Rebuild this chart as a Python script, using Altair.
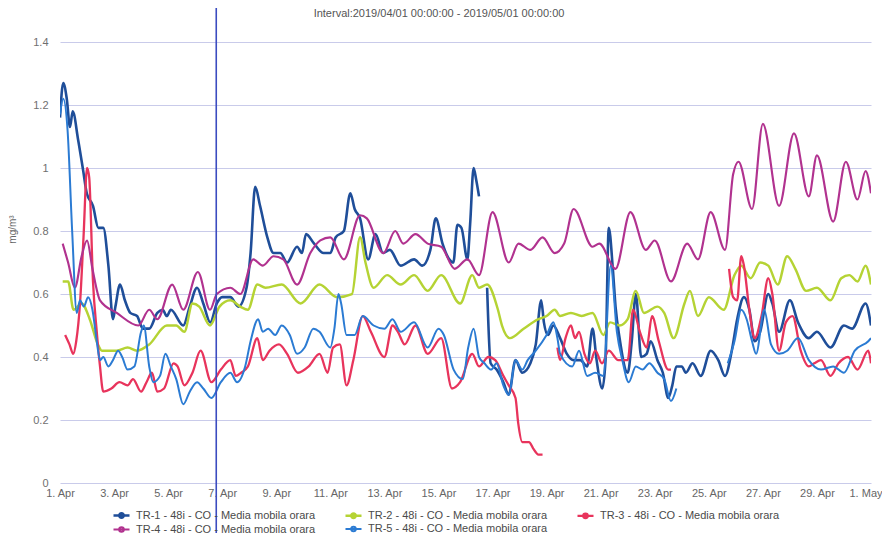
import altair as alt
import pandas as pd

title_text = "Interval:2019/04/01 00:00:00 - 2019/05/01 00:00:00"
series_names = [
    "TR-1 - 48i - CO - Media mobila orara",
    "TR-2 - 48i - CO - Media mobila orara",
    "TR-3 - 48i - CO - Media mobila orara",
    "TR-4 - 48i - CO - Media mobila orara",
    "TR-5 - 48i - CO - Media mobila orara",
]
series_colors = ["#1f4e99", "#b5d334", "#e8345c", "#b1328f", "#2b7bd3"]
series_widths = [2.6, 2.0, 2.0, 2.0, 2.0]
tick_days = list(range(0, 31, 2))
tick_labels = ["1. Apr", "3. Apr", "5. Apr", "7. Apr", "9. Apr", "11. Apr", "13. Apr",
               "15. Apr", "17. Apr", "19. Apr", "21. Apr", "23. Apr", "25. Apr",
               "27. Apr", "29. Apr", "1. May"]
y_ticks = [0, 0.2, 0.4, 0.6, 0.8, 1.0, 1.2, 1.4]
marker_day = [5.78]

# day offset from 2019/04/01 00:00, None = gap
tr1_days = [0.0, 0.12, 0.25, 0.37, 0.47, 0.67, 0.86, 0.99, 1.22, 1.42, 1.6, 1.79, 1.96, 2.05, 2.22, 2.4, 2.6, 2.85, 3.07, 3.3, 3.6, 3.8, 3.95, 4.1, 4.56, 4.8, 5.07, 5.3, 5.56, 5.8, 6.0, 6.3,
            6.6, 6.9, 7.05, 7.22, 7.4, 7.67, 7.9, 8.15, 8.4, 8.77, 8.95, 9.1, 9.4, 9.75, 10.0, 10.2, 10.5, 10.74, 10.9, 11.1, 11.4, 11.67, 11.95, 12.2, 12.6,
            13.1, 13.4, 13.7, 13.9, 14.15, 14.4, 14.55, 14.7, 14.85, 15.07, 15.17, 15.3, 15.4, 15.5, None,
            15.8, 15.93, 16.15, 16.4, 16.6, 16.85, 17.1, 17.4, 17.6, 17.8, 17.9, 18.05, 18.25, 18.5,
            18.75, 19.0, 19.25, 19.5, 19.7, 19.85, 20.06, 20.18, 20.3, 20.45, 20.55, 20.7, 21.0, 21.15, 21.3, 21.5, 21.7, 21.85, 22.1, 22.3, 22.5, 22.65, 22.8, 23.0, 23.15, 23.4, 23.7, 24.07, 24.35, 24.6,
            24.85, 25.05, 25.3, 25.5, 25.7, 25.9, 26.2, 26.35, 26.6, 27.0, 27.3, 27.7, 28.0, 28.5, 29.0, 29.3, 29.8, 30.0]
tr1_vals = [1.16, 1.27, 1.22, 1.13, 1.18, 1.09, 0.99, 0.92, 0.88, 0.81, 0.81, 0.69, 0.52, 0.56, 0.63, 0.58, 0.54, 0.53, 0.49, 0.49, 0.54, 0.55, 0.53, 0.55, 0.50, 0.56, 0.62, 0.57, 0.51, 0.57, 0.59, 0.59,
            0.56, 0.62, 0.73, 0.94, 0.88, 0.78, 0.73, 0.73, 0.70, 0.75, 0.73, 0.79, 0.76, 0.73, 0.73, 0.78, 0.80, 0.92, 0.87, 0.84, 0.71, 0.79, 0.73, 0.74, 0.69,
            0.71, 0.69, 0.74, 0.84, 0.76, 0.71, 0.70, 0.82, 0.81, 0.71, 0.82, 1.00, 0.96, 0.91, None,
            0.62, 0.38, 0.36, 0.32, 0.28, 0.39, 0.35, 0.38, 0.44, 0.58, 0.51, 0.47, 0.50, 0.46,
            0.41, 0.39, 0.39, 0.37, 0.49, 0.39, 0.30, 0.39, 0.81, 0.68, 0.56, 0.46, 0.35, 0.45, 0.60, 0.40, 0.41, 0.45, 0.39, 0.35, 0.27, 0.31, 0.37, 0.37, 0.35, 0.38, 0.34, 0.42, 0.39, 0.34,
            0.42, 0.52, 0.59, 0.55, 0.45, 0.48, 0.60, 0.57, 0.48, 0.58, 0.51, 0.46, 0.48, 0.43, 0.50, 0.49, 0.57, 0.50]

tr2_days = [0.1, 0.3, 0.5, 0.8, 1.1, 1.4, 1.55, 2.1, 2.5, 2.85, 3.3, 3.95, 4.3, 4.6, 4.9, 5.15, 5.55, 5.9, 6.3,
            6.67, 6.95, 7.3, 7.6, 8.2, 8.9, 9.6, 10.25, 10.8, 11.1, 11.3, 11.6, 12.1,
            12.6, 13.1, 13.6, 14.1, 14.8, 15.25, 15.5, 15.8, 16.2, 16.35, 16.65, 17.15, 17.7, 18.0, 18.3,
            18.5, 18.9, 19.3, 19.7, 20.1, 20.35, 20.7, 21.0, 21.3, 21.6, 22.1, 22.35, 22.7, 23.1, 23.3, 23.6, 24.0, 24.55,
            24.95, 25.2, 25.55, 25.9, 26.2, 26.55, 26.9, 27.2, 27.6, 28.0, 28.5, 28.9, 29.2, 29.5, 29.8, 30.0]
tr2_vals = [0.64, 0.64, 0.55, 0.57, 0.52, 0.44, 0.42, 0.42, 0.43, 0.42, 0.44, 0.50, 0.50, 0.48, 0.57, 0.56, 0.50, 0.56, 0.58,
            0.56, 0.55, 0.63, 0.62, 0.63, 0.57, 0.63, 0.59, 0.60, 0.78, 0.70, 0.62, 0.66,
            0.63, 0.66, 0.61, 0.66, 0.57, 0.66, 0.62, 0.63, 0.55, 0.50, 0.46, 0.49, 0.52, 0.53, 0.55,
            0.53, 0.54, 0.53, 0.54, 0.47, 0.51, 0.50, 0.52, 0.61, 0.54, 0.56, 0.54, 0.46, 0.57, 0.61, 0.53, 0.59, 0.55,
            0.66, 0.69, 0.65, 0.70, 0.69, 0.63, 0.72, 0.68, 0.61, 0.62, 0.58, 0.65, 0.66, 0.64, 0.69, 0.63]

tr3_days = [0.19, 0.35, 0.49, 0.6, 0.74, 0.87, 1.0, 1.08, 1.22, 1.36, 1.48, 1.6, 1.9, 2.2, 2.5, 2.7, 3.0, 3.2, 3.4, 3.6, 3.85, 4.2, 4.35, 4.6, 4.9, 5.2, 5.6, 5.95, 6.3,
            6.5, 6.7, 6.95, 7.3, 7.5, 7.75, 8.1, 8.4, 8.8, 9.2, 9.6, 9.9, 10.1, 10.35, 10.6, 10.85, 11.2, 11.5, 12.0, 12.3,
            12.5, 12.75, 13.15, 13.6, 14.1, 14.5, 14.8, 15.25, 15.5, 15.85, 16.1, 16.4, 16.6, 16.85, 16.95, 17.1, 17.35, 17.5, 17.7, 17.85, None,
            18.4, 18.5, 18.7, 18.9, 19.05, 19.2, 19.4, 19.6, 19.8, 20.05, 20.3, 20.65, 21.0, 21.2, 21.45, 21.7, 21.9, 22.15, 22.5, 22.6, None,
            24.75, 24.9, 25.05, 25.2, 25.3, 25.5, 25.7, 25.95, 26.2, 26.35, 26.6, 26.85, 27.1, 27.4, 27.7, 27.9, 28.15, 28.5, 28.8, 29.15, 29.5, 29.9, 30.0]
tr3_vals = [0.47, 0.44, 0.41, 0.45, 0.57, 0.78, 1.00, 0.97, 0.64, 0.48, 0.37, 0.29, 0.30, 0.32, 0.31, 0.33, 0.29, 0.32, 0.35, 0.29, 0.30, 0.38, 0.37, 0.31, 0.35, 0.42, 0.32, 0.36, 0.39,
            0.34, 0.35, 0.37, 0.46, 0.39, 0.42, 0.44, 0.41, 0.35, 0.37, 0.41, 0.35, 0.43, 0.44, 0.31, 0.39, 0.53, 0.48, 0.40, 0.50,
            0.48, 0.44, 0.50, 0.41, 0.46, 0.30, 0.32, 0.41, 0.37, 0.40, 0.39, 0.34, 0.31, 0.27, 0.19, 0.13, 0.13, 0.11, 0.09, 0.09, None,
            0.43, 0.39, 0.46, 0.50, 0.46, 0.48, 0.41, 0.38, 0.42, 0.38, 0.42, 0.39, 0.39, 0.55, 0.48, 0.43, 0.53, 0.45, 0.36, 0.36, None,
            0.68, 0.59, 0.58, 0.72, 0.69, 0.55, 0.46, 0.53, 0.65, 0.60, 0.42, 0.51, 0.53, 0.42, 0.37, 0.38, 0.39, 0.34, 0.38, 0.40, 0.36, 0.42, 0.38]

tr4_days = [0.1, 0.3, 0.55, 0.8, 1.0, 1.2, 1.48, 2.1, 2.9, 3.3, 3.6, 4.15, 4.56, 5.1, 5.55, 5.8, 6.3,
            6.67, 7.15, 7.5, 7.9, 8.26, 8.77, 9.26, 9.63, 10.0, 10.5, 11.1, 11.35, 11.96, 12.4,
            12.7, 13.15, 13.6, 14.1, 14.6, 15.07, 15.5, 16.0, 16.6, 16.96, 17.4, 17.85, 18.3, 18.65,
            19.0, 19.7, 19.95, 20.55, 21.1, 21.67, 22.0, 22.6, 23.2, 23.6, 24.07, 24.6,
            24.9, 25.1, 25.6, 26.0, 26.6, 27.15, 27.7, 28.0, 28.6, 29.07, 29.5, 29.8, 30.0]
tr4_vals = [0.76, 0.70, 0.62, 0.72, 0.77, 0.68, 0.58, 0.54, 0.50, 0.55, 0.52, 0.63, 0.55, 0.67, 0.55, 0.60, 0.62,
            0.60, 0.71, 0.69, 0.72, 0.71, 0.63, 0.73, 0.77, 0.78, 0.71, 0.85, 0.84, 0.73, 0.80,
            0.76, 0.79, 0.76, 0.75, 0.68, 0.71, 0.66, 0.86, 0.70, 0.76, 0.74, 0.78, 0.73, 0.76,
            0.87, 0.75, 0.76, 0.68, 0.86, 0.74, 0.77, 0.64, 0.76, 0.71, 0.86, 0.74,
            0.98, 1.02, 0.87, 1.14, 0.88, 1.11, 0.91, 1.04, 0.83, 1.02, 0.90, 0.99, 0.92]

tr5_days = [0.0, 0.12, 0.28, 0.45, 0.62, 0.74, 0.88, 1.04, 1.2, 1.36, 1.48, 1.6, 1.79, 1.96, 2.15, 2.3, 2.5, 2.75, 3.0, 3.1, 3.3, 3.45, 3.7, 3.9, 4.1, 4.3, 4.56, 4.8, 5.07, 5.3, 5.6, 5.95, 6.3,
            6.55, 6.85, 7.05, 7.33, 7.5, 7.7, 7.96, 8.2, 8.5, 8.77, 9.05, 9.37, 9.6, 10.0, 10.15, 10.3, 10.4, 10.6, 10.9, 11.2, 11.6, 12.0, 12.3,
            12.6, 13.1, 13.6, 14.0, 14.2, 14.56, 14.9, 15.1, 15.3, 15.5, 15.7, 15.95, 16.15, 16.4, 16.6, 16.85, 17.1, 17.3, 17.6, 18.0, 18.25, 18.4,
            18.5, 18.95, 19.2, 19.5, 19.8, 20.1, 20.37, 20.6, 20.8, 21.04, 21.3, 21.55, 21.8, 22.1, 22.35, 22.6, 22.8, None,
            24.7, 24.95, 25.2, 25.4, 25.6, 25.75, 26.05, 26.3, 26.6, 26.9, 27.3, 27.7, 28.15, 28.6, 29.0, 29.4, 29.9, 30.0]
tr5_vals = [1.17, 1.22, 1.12, 0.80, 0.54, 0.58, 0.56, 0.59, 0.55, 0.45, 0.39, 0.40, 0.37, 0.39, 0.42, 0.40, 0.36, 0.37, 0.48, 0.50, 0.37, 0.32, 0.34, 0.41, 0.37, 0.33, 0.25, 0.29, 0.32, 0.30, 0.27, 0.32, 0.35,
            0.32, 0.37, 0.45, 0.52, 0.48, 0.49, 0.47, 0.50, 0.47, 0.41, 0.43, 0.49, 0.48, 0.43, 0.49, 0.60, 0.57, 0.47, 0.47, 0.53, 0.50, 0.49, 0.52,
            0.48, 0.51, 0.43, 0.49, 0.47, 0.36, 0.33, 0.43, 0.49, 0.40, 0.38, 0.36, 0.38, 0.31, 0.28, 0.39, 0.36, 0.39, 0.42, 0.47, 0.51, 0.46,
            0.41, 0.37, 0.42, 0.34, 0.35, 0.34, 0.69, 0.48, 0.39, 0.32, 0.37, 0.36, 0.38, 0.35, 0.33, 0.26, 0.30, None,
            0.38, 0.45, 0.55, 0.52, 0.45, 0.41, 0.55, 0.44, 0.41, 0.42, 0.46, 0.39, 0.36, 0.37, 0.35, 0.42, 0.45, 0.46]

all_days = [tr1_days, tr2_days, tr3_days, tr4_days, tr5_days]
all_vals = [tr1_vals, tr2_vals, tr3_vals, tr4_vals, tr5_vals]

rows = []
for name, days, vals in zip(series_names, all_days, all_vals):
    seg = 0
    for d, v in zip(days, vals):
        if v is None or d is None:
            seg += 1
            continue
        rows.append({"series": name, "seg": f"{name}#{seg}", "day": d, "value": v})
df = pd.DataFrame(rows)

FONT = "Liberation Sans"
W, H = 811, 458
label_expr = "[" + ",".join(f"'{t}'" for t in tick_labels) + "][round(datum.value / 2)]"
legend_symbol = "M-1.6,0L1.6,0M-0.45,0A0.45,0.45 0 1 1 0.45,0A0.45,0.45 0 1 1 -0.45,0Z"

lines = alt.Chart(df).mark_line(interpolate="monotone", clip=True).encode(
    x=alt.X("day:Q",
            scale=alt.Scale(domain=[0, 30], nice=False, zero=False),
            axis=alt.Axis(values=tick_days, labelExpr=label_expr, grid=False, domain=False,
                          ticks=False, title=None, labelFontSize=11, labelColor="#666666",
                          labelFont=FONT, labelPadding=4, labelFlush=False, labelOverlap=False,
                          labelAlign=alt.condition("datum.value >= 30", alt.value("right"), alt.value("center")),
                          labelOffset=alt.condition("datum.value >= 30", alt.value(11), alt.value(0)))),
    y=alt.Y("value:Q",
            scale=alt.Scale(domain=[0, 1.454], nice=False, zero=True),
            axis=alt.Axis(values=y_ticks, format=".1~f", grid=True, gridColor="#c9cbea",
                          gridWidth=1, domain=False, ticks=False, labelPadding=12,
                          labelFontSize=11, labelColor="#6f6f6f", labelFont=FONT,
                          title="mg/m³", titleFontSize=10, titleColor="#666666",
                          titleFontWeight="normal", titleFont=FONT, titleAngle=-90,
                          titleX=-48, titleY=H / 2 - 25, titleAlign="center",
                          titleBaseline="middle")),
    color=alt.Color("series:N",
                    scale=alt.Scale(domain=series_names, range=series_colors),
                    legend=alt.Legend(title=None, orient="none", legendX=55, legendY=484,
                                      direction="horizontal", columns=3, columnPadding=24,
                                      rowPadding=-3, symbolType=legend_symbol, symbolSize=100,
                                      symbolStrokeWidth=2.4, labelFontSize=11,
                                      labelColor="#4a4a4a", labelFont=FONT, labelOffset=8,
                                      labelLimit=300)),
    strokeWidth=alt.StrokeWidth("series:N",
                                scale=alt.Scale(domain=series_names, range=series_widths),
                                legend=None),
    detail="seg:N",
    order="day:Q",
)

marker = alt.Chart(pd.DataFrame({"day": marker_day})).mark_rule(
    color="#3b4cc0", strokeWidth=1.6, clip=False
).encode(
    x="day:Q",
    y=alt.value(-25),
    y2=alt.value(H + 60),
)

title = alt.Chart(pd.DataFrame({"t": [title_text]})).mark_text(
    fontSize=11, color="#555555", font=FONT, align="center", baseline="middle"
).encode(
    text="t:N",
    x=alt.value(379),
    y=alt.value(-11),
)

chart = alt.layer(lines, marker, title).properties(
    width=W,
    height=H,
    autosize=alt.AutoSizeParams(type="none"),
    padding={"left": 52, "top": 17, "right": 11, "bottom": 50},
    background="white",
).configure_view(stroke=None)

chart.save("out.html", embed_options={"renderer": "svg", "actions": False})
